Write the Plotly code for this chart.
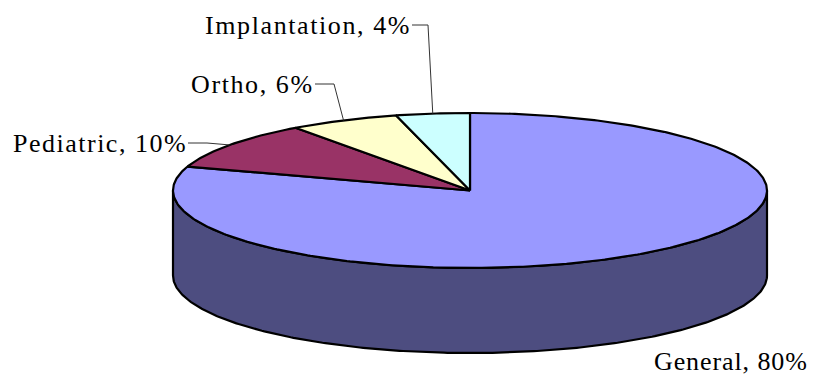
import numpy as np
import plotly.graph_objects as go

# Pie data
categories = ["General", "Pediatric", "Ortho", "Implantation"]
shares = [80, 10, 6, 4]
top_colors = ["#9999FF", "#993366", "#FFFFCC", "#CCFFFF"]
side_colors = ["#4D4D80", "#4D1A33", "#808066", "#668080"]

# Geometry of the tilted pie (drawing frame = page pixels, y downward)
W, H = 815, 375
CX, CY = 470.0, 190.5     # centre of the top face
RX, RY = 297.0, 77.5      # radii of the top ellipse
DEPTH = 85.0              # thickness of the pie
EDGE = dict(color="black", width=2.2)


def pt(deg, drop=0.0):
    a = np.radians(deg)
    return CX + RX * np.cos(a), CY - RY * np.sin(a) + drop


def arc(a0, a1, drop=0.0, n=None):
    n = n or max(8, int(abs(a1 - a0) * 1.5))
    t = np.linspace(a0, a1, n)
    xs, ys = pt(t, drop)
    return list(xs), list(ys)


# slice angles: start at 12 o'clock, run clockwise
total = float(sum(shares))
bounds = []
start = 90.0
for v in shares:
    end = start - 360.0 * v / total
    bounds.append((start, end))
    start = end

fig = go.Figure()

# outer side wall: only the front half (0° .. -180°) is visible
for (a0, a1), sc in zip(bounds, side_colors):
    lo, hi = max(min(a0, a1), -180.0), min(max(a0, a1), 0.0)
    if lo >= hi:
        continue
    tx, ty = arc(hi, lo)
    bx, by = arc(lo, hi, DEPTH)
    fig.add_trace(go.Scatter(
        x=tx + bx + [tx[0]], y=ty + by + [ty[0]],
        mode="lines", fill="toself", fillcolor=sc,
        line=EDGE, hoverinfo="skip", showlegend=False))

# top faces of the slices
for (a0, a1), tc, name, v in zip(bounds, top_colors, categories, shares):
    ax, ay = arc(a0, a1)
    fig.add_trace(go.Scatter(
        x=[CX] + ax + [CX], y=[CY] + ay + [CY],
        mode="lines", fill="toself", fillcolor=tc,
        line=EDGE, name=name, hoverinfo="text",
        text=f"{name}, {v}%", showlegend=False))

# data labels with leader lines to the middle of each slice's rim
# (x, y, anchor, elbow points of the leader, letter spacing)
label_pos = {
    "General": (810, 361, "right", None, 0.9),
    "Pediatric": (189, 143, "right", [(207, 143)], 1.5),
    "Ortho": (316, 84, "right", [(334, 84)], 1.6),
    "Implantation": (413, 25, "right", [(428, 25)], 1.6),
}
for (a0, a1), name, v in zip(bounds, categories, shares):
    lx, ly, anchor, elbow, spacing = label_pos[name]
    fig.add_annotation(
        x=lx, y=ly,
        text=f'<span style="letter-spacing:{spacing}px">{name}, {v}%</span>',
        showarrow=False, xanchor=anchor, yanchor="middle",
        font=dict(family="Liberation Serif", size=26, color="black"))
    if elbow is not None:
        mx, my = pt((a0 + a1) / 2.0)
        xs = [lx - 1] + [e[0] for e in elbow] + [mx]
        ys = [ly] + [e[1] for e in elbow] + [my]
        fig.add_trace(go.Scatter(
            x=xs, y=ys, mode="lines",
            line=dict(color="#333333", width=1),
            hoverinfo="skip", showlegend=False))

fig.update_layout(
    width=W, height=H,
    margin=dict(l=0, r=0, t=0, b=0),
    paper_bgcolor="white", plot_bgcolor="white",
    xaxis=dict(range=[0, W], visible=False, fixedrange=True),
    yaxis=dict(range=[H, 0], visible=False, fixedrange=True),
)

fig.write_html("out.html")
